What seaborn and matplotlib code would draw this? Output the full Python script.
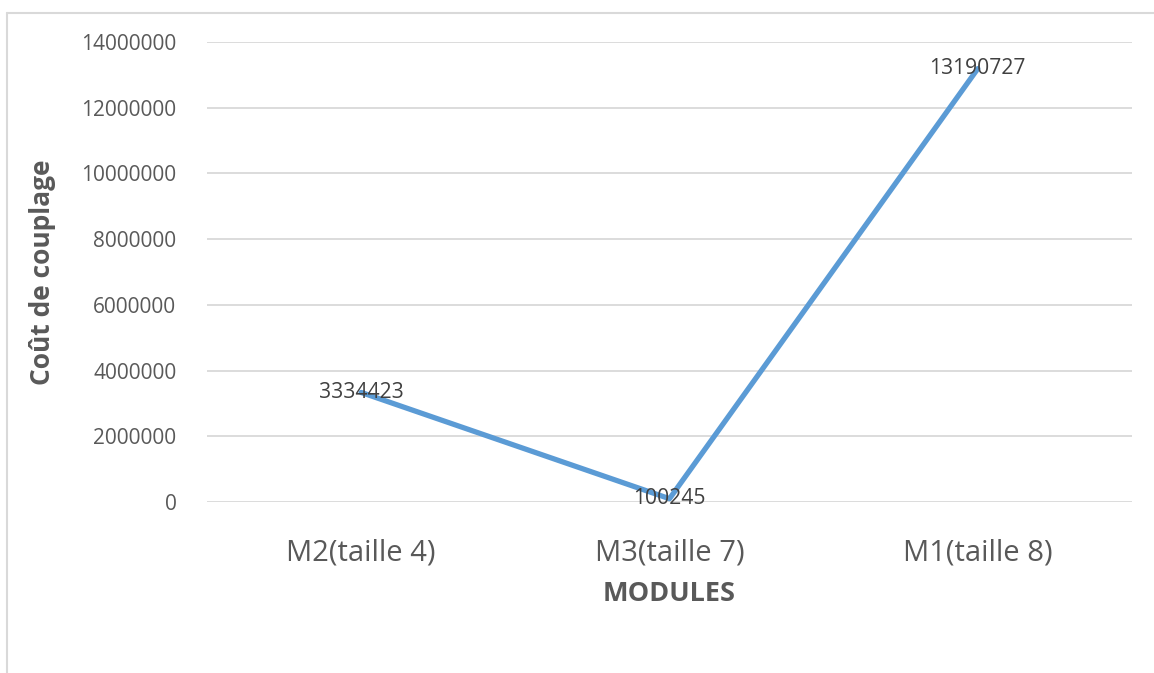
import matplotlib
matplotlib.use("Agg")
import matplotlib.pyplot as plt
import seaborn as sns
import pandas as pd
from matplotlib.lines import Line2D

modules = ["M2(taille 4)", "M3(taille 7)", "M1(taille 8)"]
couts = [3334423, 100245, 13190727]
yticks = [0, 2000000, 4000000, 6000000, 8000000, 10000000, 12000000, 14000000]

sns.set_theme(style="white")
plt.rcParams["font.family"] = ["Open Sans", "DejaVu Sans"]

df = pd.DataFrame({"module": modules, "cout": couts})

fig = plt.figure(figsize=(11.54, 6.73), dpi=100)
ax = fig.add_axes([207 / 1154, 1 - 502 / 673, (1132 - 207) / 1154, (502 - 42) / 673])

sns.lineplot(data=df, x="module", y="cout", ax=ax, color="#5B9BD5",
             linewidth=3.8, sort=False, solid_capstyle="round")

ax.set_xlim(-0.5, 2.5)
ax.set_ylim(0, 14000000)
ax.set_yticks(yticks)
ax.set_yticklabels([str(v) for v in yticks])
ax.yaxis.grid(True, color="#D9D9D9", linewidth=1.3)
ax.set_axisbelow(True)
for s in ax.spines.values():
    s.set_visible(False)
ax.tick_params(axis="y", length=0, pad=22, labelsize=15, labelcolor="#595959")
ax.tick_params(axis="x", length=0, pad=26, labelsize=21, labelcolor="#595959")

ax.set_ylabel("Coût de couplage", fontsize=19, fontweight="bold", color="#595959", labelpad=18)
ax.set_xlabel("MODULES", fontsize=19.5, fontweight="bold", color="#595959", labelpad=10)

for i, v in enumerate(couts):
    ax.text(i, v, str(v), ha="center", va="center", fontsize=15.2, color="#404040")

# chart frame (left and top edges)
fig.add_artist(Line2D([7 / 1154, 7 / 1154], [0, 1 - 13 / 673], transform=fig.transFigure,
                      color="#D9D9D9", linewidth=1.5))
fig.add_artist(Line2D([7 / 1154, 1], [1 - 13 / 673, 1 - 13 / 673], transform=fig.transFigure,
                      color="#D9D9D9", linewidth=1.5))

fig.savefig("out.png", dpi=100, facecolor="white")
